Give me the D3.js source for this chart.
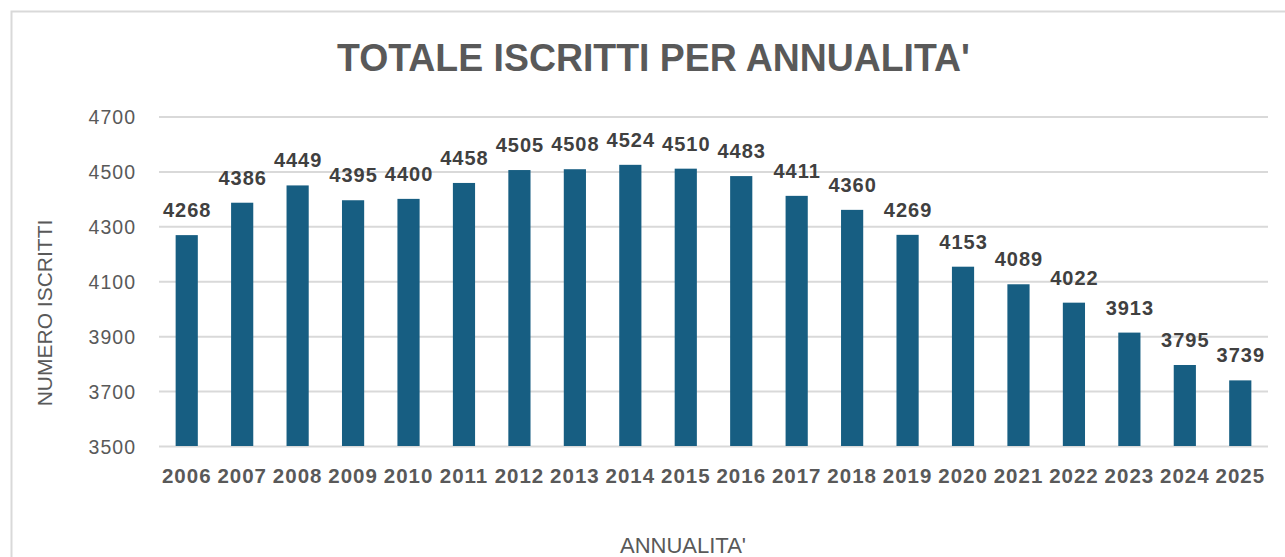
<!DOCTYPE html>
<html>
<head>
<meta charset="utf-8">
<script src="https://cdn.jsdelivr.net/npm/d3@7"></script>
<style>
  body { margin: 0; background: #fff; }
  svg { display: block; font-family: "Liberation Sans", Arial, sans-serif; }
</style>
</head>
<body>
<svg id="chart"></svg>
<script>
// data
const years = ['2006','2007','2008','2009','2010','2011','2012','2013','2014','2015',
               '2016','2017','2018','2019','2020','2021','2022','2023','2024','2025'];
const iscritti = [4268, 4386, 4449, 4395, 4400, 4458, 4505, 4508, 4524, 4510,
                  4483, 4411, 4360, 4269, 4153, 4089, 4022, 3913, 3795, 3739];
const yTicks = [3500, 3700, 3900, 4100, 4300, 4500, 4700];

const width = 1285;
const height = 557;

const svg = d3.select('#chart')
  .attr('width', width)
  .attr('height', height);

// outer chart border (runs off right/bottom edge)
svg.append('rect')
  .attr('x', 11.5).attr('y', 11.5)
  .attr('width', 1400).attr('height', 700)
  .attr('fill', '#fff')
  .attr('stroke', '#d9d9d9')
  .attr('stroke-width', 2);

const plot = { left: 159, right: 1268, top: 116.5, bottom: 446 };

const x = d3.scaleBand()
  .domain(years)
  .range([plot.left, plot.right])
  .paddingInner(0.6)
  .paddingOuter(0.3);

const y = d3.scaleLinear()
  .domain([3500, 4700])
  .range([plot.bottom, plot.top]);

// gridlines + y tick labels
const yAxis = svg.append('g')
  .attr('transform', `translate(${plot.left},0)`)
  .call(d3.axisLeft(y).tickValues(yTicks).tickFormat(d3.format('d'))
    .tickSize(-(plot.right - plot.left)).tickPadding(23));
yAxis.select('.domain').remove();
yAxis.selectAll('.tick line')
  .attr('stroke', '#d9d9d9')
  .attr('stroke-width', 2);
yAxis.selectAll('.tick text')
  .attr('fill', '#595959')
  .style('font-size', '19.5px')
  .style('letter-spacing', '1px')
  .style('font-family', '"Liberation Sans", Arial, sans-serif')
  .attr('dy', '0.36em');

// bars
svg.append('g')
  .selectAll('rect')
  .data(years)
  .join('rect')
  .attr('x', (d) => x(d))
  .attr('y', (d, i) => y(iscritti[i]))
  .attr('width', x.bandwidth())
  .attr('height', (d, i) => plot.bottom - y(iscritti[i]))
  .attr('fill', '#175e82');

// value labels
svg.append('g')
  .selectAll('text')
  .data(years)
  .join('text')
  .attr('x', (d) => x(d) + x.bandwidth() / 2 + 0.5)
  .attr('y', (d, i) => y(iscritti[i]) - 18)
  .attr('text-anchor', 'middle')
  .attr('fill', '#404040')
  .style('font-size', '20px')
  .style('font-weight', 'bold')
  .style('letter-spacing', '1px')
  .text((d, i) => iscritti[i]);

// x axis labels
const xAxis = svg.append('g')
  .attr('transform', `translate(0,${plot.bottom})`)
  .call(d3.axisBottom(x).tickSize(0).tickPadding(22));
xAxis.select('.domain').remove();
xAxis.selectAll('.tick text')
  .attr('fill', '#595959')
  .style('font-size', '20.5px')
  .style('font-weight', 'bold')
  .style('letter-spacing', '1px')
  .style('font-family', '"Liberation Sans", Arial, sans-serif');

// title
svg.append('text')
  .attr('x', 653.5)
  .attr('y', 71)
  .attr('text-anchor', 'middle')
  .attr('fill', '#595959')
  .attr('textLength', 633)
  .attr('lengthAdjust', 'spacingAndGlyphs')
  .style('font-size', '39px')
  .style('font-weight', 'bold')
  .text("TOTALE ISCRITTI PER ANNUALITA'");

// axis titles
svg.append('text')
  .attr('transform', 'translate(52,313) rotate(-90)')
  .attr('text-anchor', 'middle')
  .attr('fill', '#595959')
  .style('font-size', '21px')
  .text('NUMERO ISCRITTI');

svg.append('text')
  .attr('x', 683)
  .attr('y', 553)
  .attr('text-anchor', 'middle')
  .attr('fill', '#595959')
  .style('font-size', '22px')
  .text("ANNUALITA'");
</script>
</body>
</html>
